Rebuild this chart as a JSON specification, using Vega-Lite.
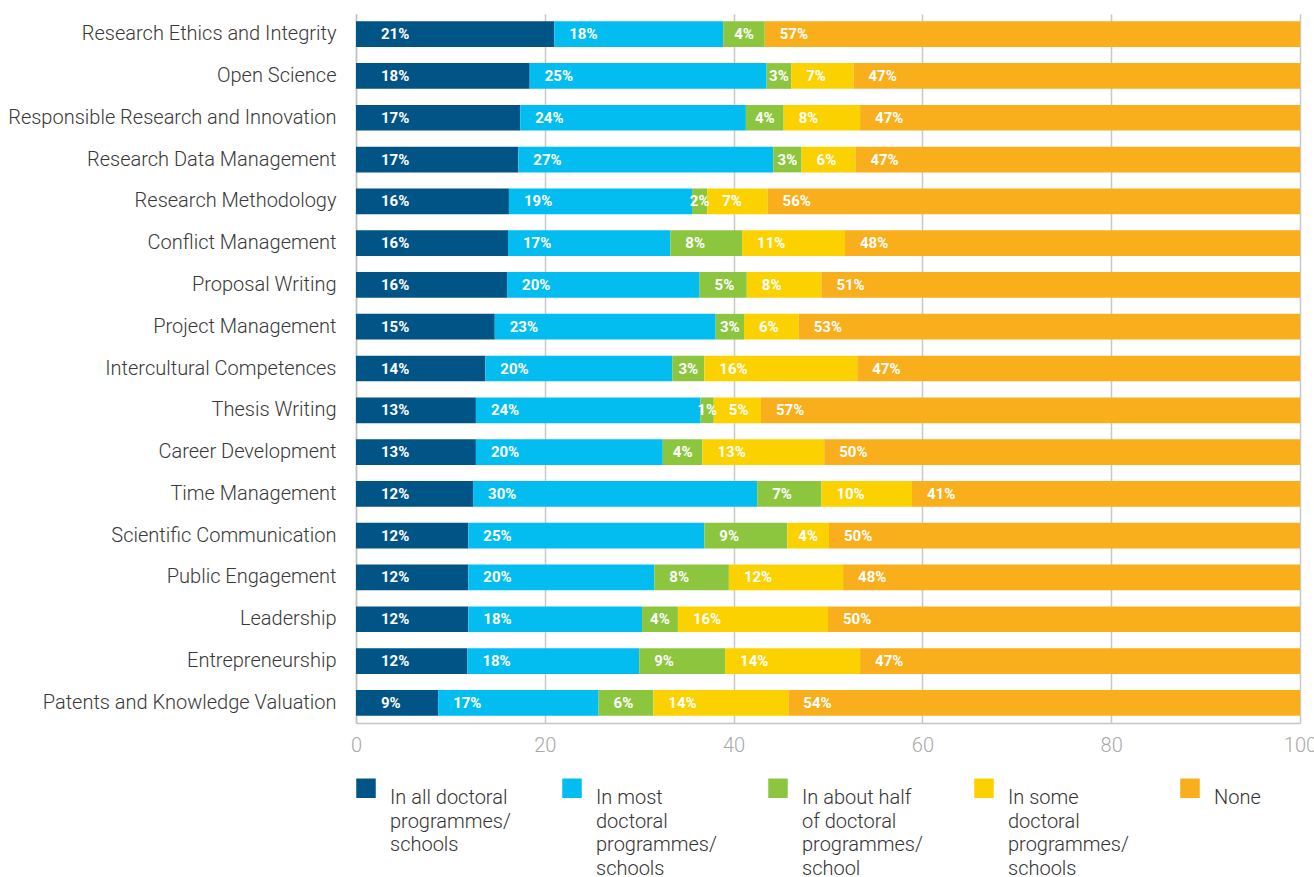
{
  "$schema": "https://vega.github.io/schema/vega-lite/v6.json",
  "width": 944,
  "height": 709,
  "autosize": {"type": "none"},
  "padding": {"left": 356, "top": 14, "right": 14, "bottom": 154},
  "background": "white",
  "data": {
    "values": [
      {"skill": "Research Ethics and Integrity", "level": "In all doctoral programmes/schools", "k": 1, "value": 21.0, "label": "21%"},
      {"skill": "Research Ethics and Integrity", "level": "In most doctoral programmes/schools", "k": 2, "value": 17.9, "label": "18%"},
      {"skill": "Research Ethics and Integrity", "level": "In about half of doctoral programmes/school", "k": 3, "value": 4.4, "label": "4%"},
      {"skill": "Research Ethics and Integrity", "level": "None", "k": 5, "value": 56.7, "label": "57%"},

      {"skill": "Open Science", "level": "In all doctoral programmes/schools", "k": 1, "value": 18.4, "label": "18%"},
      {"skill": "Open Science", "level": "In most doctoral programmes/schools", "k": 2, "value": 25.1, "label": "25%"},
      {"skill": "Open Science", "level": "In about half of doctoral programmes/school", "k": 3, "value": 2.6, "label": "3%"},
      {"skill": "Open Science", "level": "In some doctoral programmes/schools", "k": 4, "value": 6.6, "label": "7%"},
      {"skill": "Open Science", "level": "None", "k": 5, "value": 47.3, "label": "47%"},

      {"skill": "Responsible Research and Innovation", "level": "In all doctoral programmes/schools", "k": 1, "value": 17.4, "label": "17%"},
      {"skill": "Responsible Research and Innovation", "level": "In most doctoral programmes/schools", "k": 2, "value": 23.9, "label": "24%"},
      {"skill": "Responsible Research and Innovation", "level": "In about half of doctoral programmes/school", "k": 3, "value": 4.0, "label": "4%"},
      {"skill": "Responsible Research and Innovation", "level": "In some doctoral programmes/schools", "k": 4, "value": 8.1, "label": "8%"},
      {"skill": "Responsible Research and Innovation", "level": "None", "k": 5, "value": 46.6, "label": "47%"},

      {"skill": "Research Data Management", "level": "In all doctoral programmes/schools", "k": 1, "value": 17.2, "label": "17%"},
      {"skill": "Research Data Management", "level": "In most doctoral programmes/schools", "k": 2, "value": 27.0, "label": "27%"},
      {"skill": "Research Data Management", "level": "In about half of doctoral programmes/school", "k": 3, "value": 3.0, "label": "3%"},
      {"skill": "Research Data Management", "level": "In some doctoral programmes/schools", "k": 4, "value": 5.7, "label": "6%"},
      {"skill": "Research Data Management", "level": "None", "k": 5, "value": 47.1, "label": "47%"},

      {"skill": "Research Methodology", "level": "In all doctoral programmes/schools", "k": 1, "value": 16.2, "label": "16%"},
      {"skill": "Research Methodology", "level": "In most doctoral programmes/schools", "k": 2, "value": 19.4, "label": "19%"},
      {"skill": "Research Methodology", "level": "In about half of doctoral programmes/school", "k": 3, "value": 1.6, "label": "2%"},
      {"skill": "Research Methodology", "level": "In some doctoral programmes/schools", "k": 4, "value": 6.4, "label": "7%"},
      {"skill": "Research Methodology", "level": "None", "k": 5, "value": 56.4, "label": "56%"},

      {"skill": "Conflict Management", "level": "In all doctoral programmes/schools", "k": 1, "value": 16.1, "label": "16%"},
      {"skill": "Conflict Management", "level": "In most doctoral programmes/schools", "k": 2, "value": 17.2, "label": "17%"},
      {"skill": "Conflict Management", "level": "In about half of doctoral programmes/school", "k": 3, "value": 7.6, "label": "8%"},
      {"skill": "Conflict Management", "level": "In some doctoral programmes/schools", "k": 4, "value": 10.9, "label": "11%"},
      {"skill": "Conflict Management", "level": "None", "k": 5, "value": 48.2, "label": "48%"},

      {"skill": "Proposal Writing", "level": "In all doctoral programmes/schools", "k": 1, "value": 16.0, "label": "16%"},
      {"skill": "Proposal Writing", "level": "In most doctoral programmes/schools", "k": 2, "value": 20.4, "label": "20%"},
      {"skill": "Proposal Writing", "level": "In about half of doctoral programmes/school", "k": 3, "value": 5.0, "label": "5%"},
      {"skill": "Proposal Writing", "level": "In some doctoral programmes/schools", "k": 4, "value": 7.9, "label": "8%"},
      {"skill": "Proposal Writing", "level": "None", "k": 5, "value": 50.7, "label": "51%"},

      {"skill": "Project Management", "level": "In all doctoral programmes/schools", "k": 1, "value": 14.7, "label": "15%"},
      {"skill": "Project Management", "level": "In most doctoral programmes/schools", "k": 2, "value": 23.4, "label": "23%"},
      {"skill": "Project Management", "level": "In about half of doctoral programmes/school", "k": 3, "value": 3.0, "label": "3%"},
      {"skill": "Project Management", "level": "In some doctoral programmes/schools", "k": 4, "value": 5.8, "label": "6%"},
      {"skill": "Project Management", "level": "None", "k": 5, "value": 53.1, "label": "53%"},

      {"skill": "Intercultural Competences", "level": "In all doctoral programmes/schools", "k": 1, "value": 13.7, "label": "14%"},
      {"skill": "Intercultural Competences", "level": "In most doctoral programmes/schools", "k": 2, "value": 19.8, "label": "20%"},
      {"skill": "Intercultural Competences", "level": "In about half of doctoral programmes/school", "k": 3, "value": 3.4, "label": "3%"},
      {"skill": "Intercultural Competences", "level": "In some doctoral programmes/schools", "k": 4, "value": 16.2, "label": "16%"},
      {"skill": "Intercultural Competences", "level": "None", "k": 5, "value": 46.9, "label": "47%"},

      {"skill": "Thesis Writing", "level": "In all doctoral programmes/schools", "k": 1, "value": 12.7, "label": "13%"},
      {"skill": "Thesis Writing", "level": "In most doctoral programmes/schools", "k": 2, "value": 23.8, "label": "24%"},
      {"skill": "Thesis Writing", "level": "In about half of doctoral programmes/school", "k": 3, "value": 1.4, "label": "1%"},
      {"skill": "Thesis Writing", "level": "In some doctoral programmes/schools", "k": 4, "value": 5.0, "label": "5%"},
      {"skill": "Thesis Writing", "level": "None", "k": 5, "value": 57.1, "label": "57%"},

      {"skill": "Career Development", "level": "In all doctoral programmes/schools", "k": 1, "value": 12.7, "label": "13%"},
      {"skill": "Career Development", "level": "In most doctoral programmes/schools", "k": 2, "value": 19.8, "label": "20%"},
      {"skill": "Career Development", "level": "In about half of doctoral programmes/school", "k": 3, "value": 4.2, "label": "4%"},
      {"skill": "Career Development", "level": "In some doctoral programmes/schools", "k": 4, "value": 12.9, "label": "13%"},
      {"skill": "Career Development", "level": "None", "k": 5, "value": 50.4, "label": "50%"},

      {"skill": "Time Management", "level": "In all doctoral programmes/schools", "k": 1, "value": 12.4, "label": "12%"},
      {"skill": "Time Management", "level": "In most doctoral programmes/schools", "k": 2, "value": 30.1, "label": "30%"},
      {"skill": "Time Management", "level": "In about half of doctoral programmes/school", "k": 3, "value": 6.8, "label": "7%"},
      {"skill": "Time Management", "level": "In some doctoral programmes/schools", "k": 4, "value": 9.6, "label": "10%"},
      {"skill": "Time Management", "level": "None", "k": 5, "value": 41.1, "label": "41%"},

      {"skill": "Scientific Communication", "level": "In all doctoral programmes/schools", "k": 1, "value": 11.9, "label": "12%"},
      {"skill": "Scientific Communication", "level": "In most doctoral programmes/schools", "k": 2, "value": 25.0, "label": "25%"},
      {"skill": "Scientific Communication", "level": "In about half of doctoral programmes/school", "k": 3, "value": 8.8, "label": "9%"},
      {"skill": "Scientific Communication", "level": "In some doctoral programmes/schools", "k": 4, "value": 4.4, "label": "4%"},
      {"skill": "Scientific Communication", "level": "None", "k": 5, "value": 49.9, "label": "50%"},

      {"skill": "Public Engagement", "level": "In all doctoral programmes/schools", "k": 1, "value": 11.9, "label": "12%"},
      {"skill": "Public Engagement", "level": "In most doctoral programmes/schools", "k": 2, "value": 19.7, "label": "20%"},
      {"skill": "Public Engagement", "level": "In about half of doctoral programmes/school", "k": 3, "value": 7.9, "label": "8%"},
      {"skill": "Public Engagement", "level": "In some doctoral programmes/schools", "k": 4, "value": 12.1, "label": "12%"},
      {"skill": "Public Engagement", "level": "None", "k": 5, "value": 48.4, "label": "48%"},

      {"skill": "Leadership", "level": "In all doctoral programmes/schools", "k": 1, "value": 11.9, "label": "12%"},
      {"skill": "Leadership", "level": "In most doctoral programmes/schools", "k": 2, "value": 18.4, "label": "18%"},
      {"skill": "Leadership", "level": "In about half of doctoral programmes/school", "k": 3, "value": 3.8, "label": "4%"},
      {"skill": "Leadership", "level": "In some doctoral programmes/schools", "k": 4, "value": 15.9, "label": "16%"},
      {"skill": "Leadership", "level": "None", "k": 5, "value": 50.0, "label": "50%"},

      {"skill": "Entrepreneurship", "level": "In all doctoral programmes/schools", "k": 1, "value": 11.8, "label": "12%"},
      {"skill": "Entrepreneurship", "level": "In most doctoral programmes/schools", "k": 2, "value": 18.2, "label": "18%"},
      {"skill": "Entrepreneurship", "level": "In about half of doctoral programmes/school", "k": 3, "value": 9.1, "label": "9%"},
      {"skill": "Entrepreneurship", "level": "In some doctoral programmes/schools", "k": 4, "value": 14.3, "label": "14%"},
      {"skill": "Entrepreneurship", "level": "None", "k": 5, "value": 46.6, "label": "47%"},

      {"skill": "Patents and Knowledge Valuation", "level": "In all doctoral programmes/schools", "k": 1, "value": 8.7, "label": "9%"},
      {"skill": "Patents and Knowledge Valuation", "level": "In most doctoral programmes/schools", "k": 2, "value": 17.0, "label": "17%"},
      {"skill": "Patents and Knowledge Valuation", "level": "In about half of doctoral programmes/school", "k": 3, "value": 5.8, "label": "6%"},
      {"skill": "Patents and Knowledge Valuation", "level": "In some doctoral programmes/schools", "k": 4, "value": 14.3, "label": "14%"},
      {"skill": "Patents and Knowledge Valuation", "level": "None", "k": 5, "value": 54.2, "label": "54%"}
    ]
  },
  "transform": [
    {"stack": "value", "groupby": ["skill"], "sort": [{"field": "k", "order": "ascending"}], "as": ["v0", "v1"]}
  ],
  "encoding": {
    "y": {
      "field": "skill",
      "type": "nominal",
      "sort": ["Research Ethics and Integrity", "Open Science", "Responsible Research and Innovation", "Research Data Management", "Research Methodology", "Conflict Management", "Proposal Writing", "Project Management", "Intercultural Competences", "Thesis Writing", "Career Development", "Time Management", "Scientific Communication", "Public Engagement", "Leadership", "Entrepreneurship", "Patents and Knowledge Valuation"],
      "scale": {"paddingInner": 0.385, "paddingOuter": 0.175},
      "axis": {
        "title": null,
        "ticks": false,
        "domain": true,
        "domainColor": "#c4c4c4",
        "domainWidth": 1.5,
        "labelFont": "Roboto",
        "labelFontSize": 20,
        "labelFontWeight": 300,
        "labelColor": "#383838",
        "labelPadding": 20,
        "labelLimit": 400
      }
    }
  },
  "layer": [
    {
      "mark": {"type": "bar"},
      "encoding": {
        "x": {
          "field": "v0",
          "type": "quantitative",
          "scale": {"domain": [0, 100], "nice": false},
          "axis": {
            "title": null,
            "values": [0, 20, 40, 60, 80, 100],
            "ticks": false,
            "grid": true,
            "gridColor": "#c8c8c8",
            "gridWidth": 1.5,
            "domainColor": "#c4c4c4",
            "domainWidth": 1.5,
            "labelFont": "Roboto",
            "labelFontSize": 20,
            "labelFontWeight": 300,
            "labelColor": "#a8a8a8",
            "labelPadding": 12,
            "labelFlush": false
          }
        },
        "x2": {"field": "v1"},
        "color": {
          "field": "level",
          "type": "nominal",
          "scale": {
            "domain": ["In all doctoral programmes/schools", "In most doctoral programmes/schools", "In about half of doctoral programmes/school", "In some doctoral programmes/schools", "None"],
            "range": ["#015486", "#03bdf1", "#8cc63f", "#fcd100", "#f9ae1c"]
          },
          "legend": {
            "title": null,
            "orient": "bottom",
            "direction": "horizontal",
            "columns": 5,
            "symbolType": "square",
            "symbolSize": 380,
            "symbolStrokeWidth": 0,
            "symbolOpacity": 1,
            "labelFont": "Roboto",
            "labelFontSize": 20,
            "labelFontWeight": 300,
            "labelColor": "#333333",
            "labelBaseline": "top",
            "labelOffset": 14,
            "labelLimit": 300,
            "columnPadding": 51,
            "offset": 23,
            "labelExpr": "datum.label == 'In all doctoral programmes/schools' ? ['In all doctoral', 'programmes/', 'schools', ''] : datum.label == 'In most doctoral programmes/schools' ? ['In most', 'doctoral', 'programmes/', 'schools'] : datum.label == 'In about half of doctoral programmes/school' ? ['In about half', 'of doctoral', 'programmes/', 'school'] : datum.label == 'In some doctoral programmes/schools' ? ['In some', 'doctoral', 'programmes/', 'schools'] : ['None', '', '', '']"
          }
        }
      }
    },
    {
      "transform": [{"filter": "datum.k == 1"}],
      "mark": {"type": "text", "align": "left", "baseline": "middle", "dx": 25, "font": "Roboto", "fontWeight": "bold", "fontSize": 15, "color": "white"},
      "encoding": {
        "x": {"field": "v0", "type": "quantitative"},
        "text": {"field": "label", "type": "nominal"}
      }
    },
    {
      "transform": [{"filter": "datum.k != 1 && datum.value >= 5"}],
      "mark": {"type": "text", "align": "left", "baseline": "middle", "dx": 15, "font": "Roboto", "fontWeight": "bold", "fontSize": 15, "color": "white"},
      "encoding": {
        "x": {"field": "v0", "type": "quantitative"},
        "text": {"field": "label", "type": "nominal"}
      }
    },
    {
      "mark": {"type": "text", "align": "center", "baseline": "middle", "font": "Roboto", "fontWeight": "bold", "fontSize": 15, "color": "white"},
      "encoding": {
        "x": {"field": "value", "type": "quantitative", "stack": "zero", "bandPosition": 0.5},
        "detail": {"field": "level"},
        "order": {"field": "k", "type": "quantitative"},
        "text": {"condition": {"test": "datum.k != 1 && datum.value < 5", "field": "label"}, "value": ""}
      }
    }
  ],
  "config": {
    "view": {"stroke": null},
    "style": {"guide-label": {"lineHeight": 23.5}}
  }
}
